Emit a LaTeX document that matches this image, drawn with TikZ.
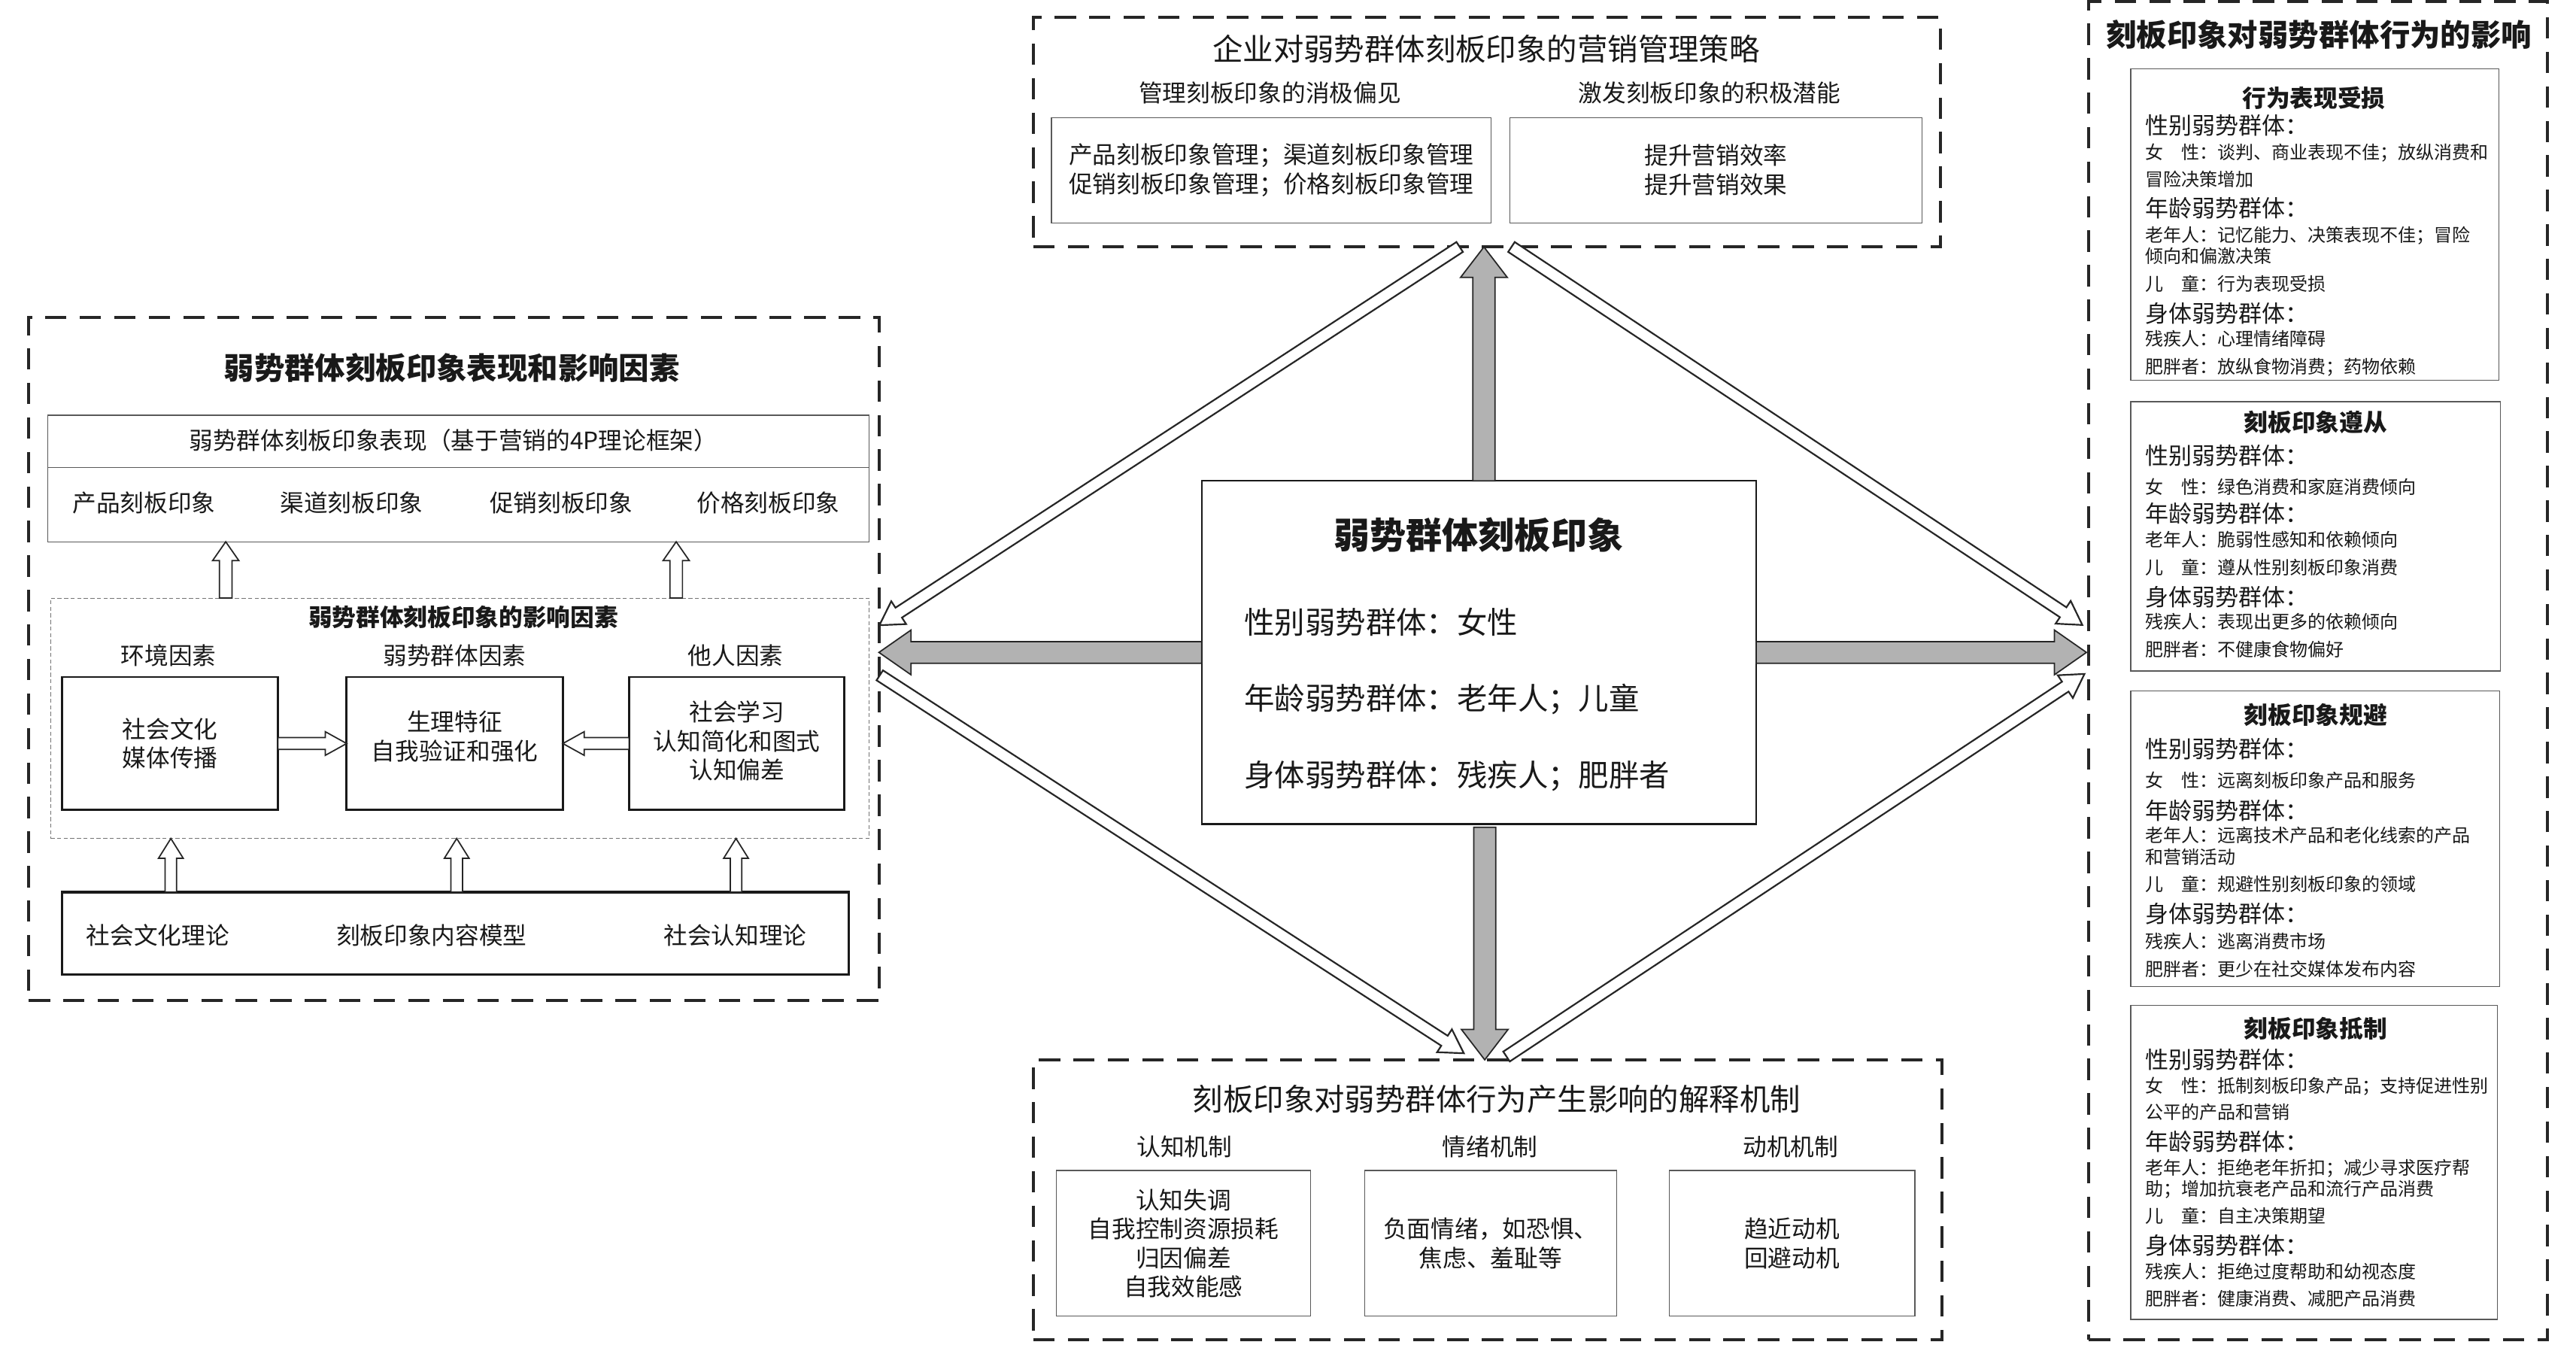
\documentclass[tikz,border=0pt]{standalone}
\usepackage{fontspec}
\setmainfont{Noto Sans CJK SC}
\usetikzlibrary{calc,fit}

\newcommand{\blkarrow}[6]{%
  \path ($(#3)!#6!(#2)$) coordinate (tmpH);
  \draw[#1] ($(#2)!#4!90:(#3)$) -- ($(tmpH)!#4!90:(#3)$) -- ($(tmpH)!#5!90:(#3)$) -- (#3) -- ($(tmpH)!#5!-90:(#3)$) -- ($(tmpH)!#4!-90:(#3)$) -- ($(#2)!#4!-90:(#3)$) -- cycle;}
\newcommand{\rl}[4]{\node[#3] (#1) at (1305.5,#2) {#4};}

\begin{document}
\begin{tikzpicture}[x=1pt,y=-1pt,
  dbox/.style={draw=black!85, line width=1.8pt, dash pattern=on 13pt off 8pt, inner sep=0, outer sep=0},
  tbox/.style={draw=black!65, line width=0.6pt, inner sep=0, outer sep=0},
  kbox/.style={draw=black!90, line width=1.3pt, inner sep=0, outer sep=0},
  fbox/.style={draw=black!55, line width=0.5pt, dash pattern=on 2.5pt off 1.5pt, inner sep=0, outer sep=0},
  t145/.style={inner sep=0, text=black!90, font=\fontsize{14.5}{17.6}\selectfont, text height=12.8pt, text depth=1.7pt},
  m145/.style={inner sep=0, text=black!90, font=\fontsize{14.5}{17.6}\selectfont, align=center},
  b145/.style={t145, font=\fontsize{14.5}{17.6}\selectfont\bfseries},
  t185/.style={inner sep=0, text=black!90, font=\fontsize{18.5}{22}\selectfont, text height=16.3pt, text depth=2.2pt},
  b185/.style={t185, font=\fontsize{18.5}{22}\selectfont\bfseries},
  b22/.style={inner sep=0, text=black!90, font=\fontsize{22}{26}\selectfont\bfseries, text height=19.4pt, text depth=2.6pt},
  hd/.style={inner sep=0, anchor=west, text=black!90, font=\fontsize{14.2}{16}\selectfont, text height=12.5pt, text depth=1.7pt},
  it/.style={inner sep=0, anchor=west, text=black!90, font=\fontsize{11}{13}\selectfont, text height=9.7pt, text depth=1.3pt},
  garr/.style={draw=black!85, line width=0.8pt, fill=black!30},
  harr/.style={draw=black!85, line width=0.8pt, fill=white},
  darr/.style={draw=black!85, line width=1pt, fill=white}]
\useasboundingbox (0,0) rectangle (1568,820);
\fill[white] (0,0) rectangle (1568,820);

% ---------- left block ----------
\node[dbox, fit={(17.5,193) (535,609)}] (lft) {};
\node[b185] (lftT) at (275,224) {弱势群体刻板印象表现和影响因素};
\node[tbox, fit={(29,252.7) (529,284.5)}] (p4h) {};
\node[tbox, fit={(29,284.5) (529,329.7)}] (p4b) {};
\node[t145] (p4t) at (276,268) {弱势群体刻板印象表现（基于营销的4P理论框架）};
\node[t145] (p4a) at (87.7,306) {产品刻板印象};
\node[t145] (p4c) at (214,306) {渠道刻板印象};
\node[t145] (p4d) at (341.6,306) {促销刻板印象};
\node[t145] (p4e) at (467.6,306) {价格刻板印象};
\node[fbox, fit={(30.8,364) (529,510.3)}] (fac) {};
\node[b145] (facT) at (282,375.5) {弱势群体刻板印象的影响因素};
\node[t145] (l1) at (102.6,399) {环境因素};
\node[t145] (l2) at (276.8,399) {弱势群体因素};
\node[t145] (l3) at (447.8,399) {他人因素};
\node[kbox, fit={(37.8,412) (169.2,493)}] (b1) {};
\node[m145] (b1t) at (b1.center) {社会文化\\媒体传播};
\node[kbox, fit={(211,412) (342.6,493)}] (b2) {};
\node[m145] (b2t) at (276.8,448.3) {生理特征\\自我验证和强化};
\node[kbox, fit={(383,412) (514,493)}] (b3) {};
\node[m145] (b3t) at (448.5,451) {社会学习\\认知简化和图式\\认知偏差};
\node[kbox, line width=1.6pt, fit={(37.8,543) (516.7,593)}] (th) {};
\node[t145] (th1) at (96,569.3) {社会文化理论};
\node[t145] (th2) at (262.7,569.3) {刻板印象内容模型};
\node[t145] (th3) at (447.5,569.3) {社会认知理论};

% ---------- centre ----------
\node[kbox, line width=1.2pt, fit={(731.5,292.6) (1069,501.5)}] (cen) {};
\node[b22] (cenT) at (900,325.6) {弱势群体刻板印象};
\node[t185, anchor=west] (c1) at (757.2,378.5) {性别弱势群体：女性};
\node[t185, anchor=west] (c2) at (757.2,425) {年龄弱势群体：老年人；儿童};
\node[t185, anchor=west] (c3) at (757.2,471.5) {身体弱势群体：残疾人；肥胖者};

% ---------- top ----------
\node[dbox, fit={(629,10.4) (1181,150.3)}] (top) {};
\node[t185] (topT) at (904.6,29.7) {企业对弱势群体刻板印象的营销管理策略};
\node[t145] (topA) at (773,56.5) {管理刻板印象的消极偏见};
\node[t145] (topB) at (1040.6,56.5) {激发刻板印象的积极潜能};
\node[tbox, fit={(640,71.7) (907.7,135.8)}] (tb1) {};
\node[m145] (tb1t) at (773.8,103.5) {产品刻板印象管理；渠道刻板印象管理\\促销刻板印象管理；价格刻板印象管理};
\node[tbox, fit={(919,71.7) (1170,135.8)}] (tb2) {};
\node[m145] (tb2t) at (1044.5,103.5) {提升营销效率\\提升营销效果};

% ---------- bottom ----------
\node[dbox, fit={(629,645) (1182,815.3)}] (bot) {};
\node[t185] (botT) at (911,668.8) {刻板印象对弱势群体行为产生影响的解释机制};
\node[t145] (bh1) at (721,698) {认知机制};
\node[t145] (bh2) at (907,698) {情绪机制};
\node[t145] (bh3) at (1090,698) {动机机制};
\node[tbox, fit={(643,712.3) (797.6,801)}] (bb1) {};
\node[m145] (bb1t) at (bb1.center) {认知失调\\自我控制资源损耗\\归因偏差\\自我效能感};
\node[tbox, fit={(830.6,712.3) (984,801)}] (bb2) {};
\node[m145] (bb2t) at (bb2.center) {负面情绪，如恐惧、\\焦虑、羞耻等};
\node[tbox, fit={(1016,712.3) (1165.5,801)}] (bb3) {};
\node[m145] (bb3t) at (bb3.center) {趋近动机\\回避动机};

% ---------- right ----------
\node[dbox, fit={(1271.5,1) (1550.7,815.3)}] (rgt) {};
\node[b185] (rgtT) at (1411.5,21.2) {刻板印象对弱势群体行为的影响};
\node[tbox, fit={(1297,42) (1521,231.5)}] (s1) {};
\node[tbox, fit={(1297,244.5) (1522,408.4)}] (s2) {};
\node[tbox, fit={(1297,420.5) (1521.5,600.3)}] (s3) {};
\node[tbox, fit={(1297,612) (1520,803)}] (s4) {};
\node[b145] (s1T) at (1408.5,59.7) {行为表现受损};
\node[b145] (s2T) at (1409.5,257) {刻板印象遵从};
\node[b145] (s3T) at (1409.5,434.9) {刻板印象规避};
\node[b145] (s4T) at (1409.5,626.2) {刻板印象抵制};
\rl{r1a}{76.3}{hd}{性别弱势群体：}
\rl{r1b}{92.5}{it}{女　性：谈判、商业表现不佳；放纵消费和}
\rl{r1c}{109}{it}{冒险决策增加}
\rl{r1d}{126.9}{hd}{年龄弱势群体：}
\rl{r1e}{142.8}{it}{老年人：记忆能力、决策表现不佳；冒险}
\rl{r1f}{155.7}{it}{倾向和偏激决策}
\rl{r1g}{172.6}{it}{儿　童：行为表现受损}
\rl{r1h}{190.7}{hd}{身体弱势群体：}
\rl{r1i}{206.3}{it}{残疾人：心理情绪障碍}
\rl{r1j}{222.9}{it}{肥胖者：放纵食物消费；药物依赖}
\rl{r2a}{277.2}{hd}{性别弱势群体：}
\rl{r2b}{296.5}{it}{女　性：绿色消费和家庭消费倾向}
\rl{r2c}{312.5}{hd}{年龄弱势群体：}
\rl{r2d}{328.4}{it}{老年人：脆弱性感知和依赖倾向}
\rl{r2e}{345.1}{it}{儿　童：遵从性别刻板印象消费}
\rl{r2f}{363.3}{hd}{身体弱势群体：}
\rl{r2g}{378.5}{it}{残疾人：表现出更多的依赖倾向}
\rl{r2h}{395.2}{it}{肥胖者：不健康食物偏好}
\rl{r3a}{455.8}{hd}{性别弱势群体：}
\rl{r3b}{475}{it}{女　性：远离刻板印象产品和服务}
\rl{r3c}{493.3}{hd}{年龄弱势群体：}
\rl{r3d}{508.5}{it}{老年人：远离技术产品和老化线索的产品}
\rl{r3e}{521.4}{it}{和营销活动}
\rl{r3f}{538.1}{it}{儿　童：规避性别刻板印象的领域}
\rl{r3g}{556.3}{hd}{身体弱势群体：}
\rl{r3h}{573}{it}{残疾人：逃离消费市场}
\rl{r3i}{589.7}{it}{肥胖者：更少在社交媒体发布内容}
\rl{r4a}{645}{hd}{性别弱势群体：}
\rl{r4b}{660.9}{it}{女　性：抵制刻板印象产品；支持促进性别}
\rl{r4c}{676.7}{it}{公平的产品和营销}
\rl{r4d}{694.8}{hd}{年龄弱势群体：}
\rl{r4e}{710.6}{it}{老年人：拒绝老年折扣；减少寻求医疗帮}
\rl{r4f}{723.4}{it}{助；增加抗衰老产品和流行产品消费}
\rl{r4g}{740}{it}{儿　童：自主决策期望}
\rl{r4h}{758}{hd}{身体弱势群体：}
\rl{r4i}{773.8}{it}{残疾人：拒绝过度帮助和幼视态度}
\rl{r4j}{790.4}{it}{肥胖者：健康消费、减肥产品消费}

% ---------- gray arrows ----------
\coordinate (gus) at ($(cen.north)+(3,0)$);
\coordinate (gue) at (gus |- top.south);
\blkarrow{garr}{gus}{gue}{6.7pt}{14.2pt}{18.5pt}
\coordinate (gds) at ($(cen.south)+(3.5,2)$);
\coordinate (gde) at (gds |- bot.north);
\blkarrow{garr}{gds}{gde}{6.7pt}{14.2pt}{18.5pt}
\coordinate (gls) at (cen.west);
\coordinate (gle) at (gls -| lft.east);
\blkarrow{garr}{gls}{gle}{6.6pt}{13.6pt}{19.5pt}
\coordinate (grs) at (cen.east);
\coordinate (gre) at ($(grs -| rgt.west)+(-1.5,0)$);
\blkarrow{garr}{grs}{gre}{6.6pt}{13.6pt}{19.5pt}

% ---------- hollow diagonal arrows ----------
\coordinate (a1s) at ($(top.south west)+(259.5,0)$);
\coordinate (a1e) at ($(lft.east)+(0.3,-20.5)$);
\blkarrow{darr}{a1s}{a1e}{3.6pt}{8.3pt}{14pt}
\coordinate (a2s) at ($(top.south west)+(291,0)$);
\coordinate (a2e) at ($(rgt.west)+(-4,-27.8)$);
\blkarrow{darr}{a2s}{a2e}{3.6pt}{8.3pt}{14pt}
\coordinate (a3s) at ($(lft.east)+(0.5,10)$);
\coordinate (a3e) at ($(bot.north west)+(262,-4)$);
\blkarrow{darr}{a3s}{a3e}{3.6pt}{8.3pt}{14pt}
\coordinate (a4s) at ($(bot.north west)+(288,-2)$);
\coordinate (a4e) at ($(rgt.west)+(-2.7,2)$);
\blkarrow{darr}{a4s}{a4e}{3.6pt}{8.3pt}{14pt}

% ---------- small hollow arrows (left block) ----------
\coordinate (u1s) at ($(fac.north west)+(106.6,0)$);
\coordinate (u1e) at (u1s |- p4b.south);
\blkarrow{harr}{u1s}{u1e}{3.8pt}{8pt}{11.5pt}
\coordinate (u2s) at ($(fac.north west)+(380.8,0)$);
\coordinate (u2e) at (u2s |- p4b.south);
\blkarrow{harr}{u2s}{u2e}{3.8pt}{8pt}{11.5pt}
\coordinate (v1s) at ($(th.north west)+(66.2,0)$);
\coordinate (v1e) at (v1s |- fac.south);
\blkarrow{harr}{v1s}{v1e}{3.5pt}{7.5pt}{12pt}
\coordinate (v2s) at ($(th.north west)+(240.2,0)$);
\coordinate (v2e) at (v2s |- fac.south);
\blkarrow{harr}{v2s}{v2e}{3.5pt}{7.5pt}{12pt}
\coordinate (v3s) at ($(th.north west)+(410.2,0)$);
\coordinate (v3e) at (v3s |- fac.south);
\blkarrow{harr}{v3s}{v3e}{3.5pt}{7.5pt}{12pt}
\blkarrow{harr}{b1.east}{b2.west}{3.6pt}{7.2pt}{13pt}
\blkarrow{harr}{b3.west}{b2.east}{3.6pt}{7.2pt}{13pt}
\end{tikzpicture}
\end{document}
